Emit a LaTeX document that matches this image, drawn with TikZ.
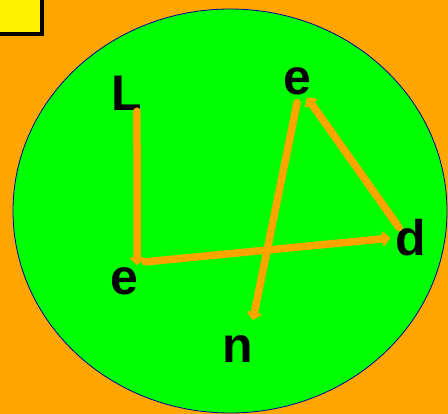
\documentclass[tikz,border=0pt]{standalone}
\usepackage{fontspec}
\setmainfont{Liberation Sans}
\usepackage{xcolor}
\usepackage{tikz}
\usetikzlibrary{arrows.meta}
\definecolor{bgorange}{HTML}{FFA500}
\definecolor{discgreen}{HTML}{00FF00}

\begin{document}
\begin{tikzpicture}[x=1pt,y=-1pt,
      letter/.style={anchor=base west,inner sep=0pt,font=\fontsize{50}{50}\selectfont\bfseries},
      link/.style={draw=bgorange,line width=7.5pt,line cap=round,-{Triangle[width=17pt,length=8pt,round]}}
]
\clip (0,0) rectangle (448,414);
\fill[bgorange] (0,0) rectangle (448,414);
\draw[fill=yellow,line width=4pt] (-10,-10) rectangle (42,34);
\draw[fill=discgreen,draw=blue!60!black,line width=0.8pt] (230,211) ellipse [x radius=217pt,y radius=202pt];

\node[letter] (L) at (111,111) {L};
\node[letter] (e2) at (283,95) {e};
\node[letter] (d) at (395,256) {d};
\node[letter] (e1) at (110,295) {e};
\node[letter] (n) at (222,363) {n};

\draw[link] ([xshift=-5pt]L.south east) -- ([xshift=-1pt,yshift=3pt]e1.north east);
\draw[link] ([shift={(7pt,6pt)}]e1.north east) -- ([xshift=-5pt]d.west);
\draw[link] ([shift={(4pt,-8pt)}]d.north west) -- ([shift={(-4pt,-2pt)}]e2.south east);
\draw[link] ([yshift=-7pt]e2.south) -- ([yshift=16pt]n.north east);
\end{tikzpicture}
\end{document}
